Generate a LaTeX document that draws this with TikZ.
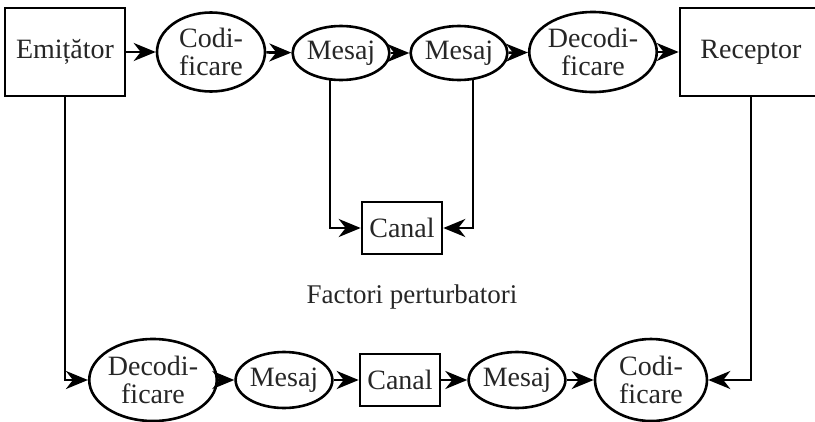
\documentclass[tikz,border=0pt]{standalone}
\usepackage{fontspec}
\setmainfont{Liberation Serif}
\usetikzlibrary{shapes.geometric,arrows.meta}
\begin{document}
\begin{tikzpicture}[x=1pt,y=-1pt,
  every node/.style={font=\fontsize{28}{28}\selectfont, inner sep=0pt, align=center, text=black!85},
  blok/.style 2 args={draw, line width=2.6pt, rectangle, minimum width=#1, minimum height=#2},
  oval/.style 2 args={draw, line width=2.6pt, ellipse, minimum width=#1, minimum height=#2},
  arr/.style={line width=2.6pt, -{Stealth[length=22pt, width=18pt, inset=7pt]}}]
\useasboundingbox (0,0) rectangle (815,421);
\clip (0,0) rectangle (815,421);

% upper chain
\node[blok={120pt}{88pt}] (emit) at (65,52) {Emițător};
\node[oval={108pt}{79pt}] (cod1) at (211,52) {Codi-\\ficare};
\node[oval={88pt}{54pt}] (mes1) at (341,53) {Mesaj};
\node[oval={88pt}{54pt}] (mes2) at (459,53) {Mesaj};
\node[oval={110pt}{80pt}] (dec1) at (593,52) {Decodi-\\ficare};
\node[blok={142pt}{88pt}] (rec) at (751,52) {Receptor};

% channel between the two messages
\node[blok={80pt}{52pt}] (can1) at (402,228) {Canal};
\node[anchor=base, font=\fontsize{27}{28}\selectfont] (noise) at (412,303) {Factori perturbatori};

% lower (return) chain
\node[oval={108pt}{82pt}] (dec2) at (153,380) {Decodi-\\ficare};
\node[oval={88pt}{56pt}] (mes3) at (284,380) {Mesaj};
\node[blok={80pt}{52pt}] (can2) at (400,380) {Canal};
\node[oval={89pt}{56pt}] (mes4) at (517,380) {Mesaj};
\node[oval={112pt}{82pt}] (cod2) at (651,380) {Codi-\\ficare};

% connectors
\draw[arr] (emit) -- (cod1);
\draw[arr] (cod1) -- (mes1);
\draw[arr] (mes1) -- (mes2);
\draw[arr] (mes2) -- (dec1);
\draw[arr] (dec1) -- (rec);

\draw[arr] ([xshift=-11pt,yshift=1pt]mes1.south) |- (can1.west);
\draw[arr] ([xshift=14pt,yshift=1pt]mes2.south) |- (can1.east);

\draw[arr] (emit.south) |- (dec2.west);
\draw[arr] (dec2) -- (mes3);
\draw[arr] (mes3) -- (can2);
\draw[arr] (can2) -- (mes4);
\draw[arr] (mes4) -- (cod2);
\draw[arr] (rec.south) |- (cod2.east);
\end{tikzpicture}
\end{document}
